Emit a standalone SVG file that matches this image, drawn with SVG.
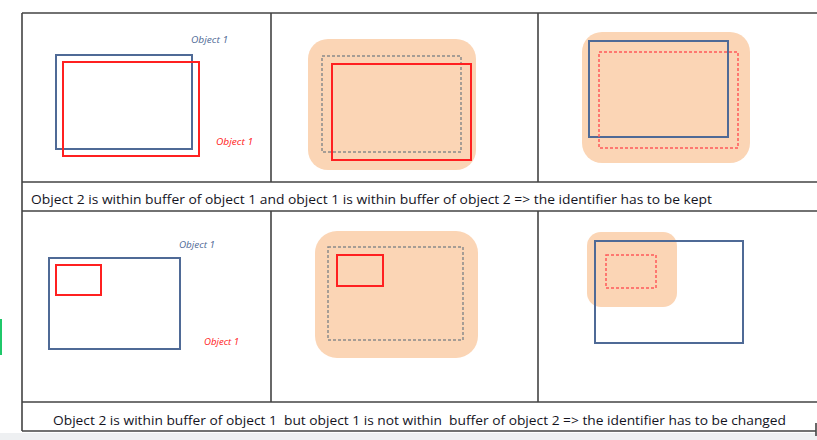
<svg xmlns="http://www.w3.org/2000/svg" width="817" height="440" viewBox="0 0 817 440">
<style>
.grid{stroke:#444;stroke-width:1.6;fill:none}
.blue{fill:none;stroke:#4f6a96;stroke-width:2}
.red{fill:none;stroke:#ff2020;stroke-width:2}
.reddash{fill:none;stroke:#ff5a5a;stroke-width:1.5;stroke-dasharray:3 2}
.graydash{fill:none;stroke:#8a8a8a;stroke-width:1.5;stroke-dasharray:3 2}
.buf{fill:#fbd5b5}
.lbl{font-family:"Open Sans","Liberation Sans",Arial,sans-serif;font-style:italic;font-size:9.5px}
.cap{font-family:"Open Sans","Liberation Sans",Arial,sans-serif;font-size:12.5px;fill:#14141e}
</style>
<rect x="0" y="0" width="817" height="440" fill="#fff"/>
<rect x="0" y="433" width="817" height="7" fill="#eef0f2"/>
<rect x="0" y="319" width="2" height="36" fill="#1fc86a"/>
<g id="table">
<path class="grid" d="M22 13H817M22 182H817M22 211H817M22 402H817M22 431H816M22 13V431M271 13V182M538 13V182M271 211V402M538 211V402M816 423V436"/>
</g>
<g id="cell-1-1">
<rect class="blue" x="56" y="55" width="136" height="94"/>
<rect class="red" x="63" y="62" width="136" height="94"/>
<text class="lbl" x="191" y="43" fill="#4f6a96" textLength="37" lengthAdjust="spacingAndGlyphs">Object 1</text>
<text class="lbl" x="216" y="145" fill="#ff2020" textLength="37" lengthAdjust="spacingAndGlyphs">Object 1</text>
</g>
<g id="cell-1-2">
<rect class="buf" x="308" y="39" width="168" height="131" rx="20"/>
<rect class="graydash" x="322" y="56" width="139" height="96"/>
<rect class="red" x="332" y="64" width="139" height="96"/>
</g>
<g id="cell-1-3">
<rect class="buf" x="582" y="32" width="168" height="131" rx="20"/>
<rect class="blue" x="589" y="41" width="139" height="96"/>
<rect class="reddash" x="599" y="52" width="139" height="96"/>
</g>
<g id="caption-1">
<text class="cap" x="31" y="204" textLength="681" lengthAdjust="spacingAndGlyphs">Object 2 is within buffer of object 1 and object 1 is within buffer of object 2 =&gt; the identifier has to be kept</text>
</g>
<g id="cell-2-1">
<rect class="blue" x="49" y="258" width="131" height="91"/>
<rect class="red" x="56" y="265" width="45" height="30"/>
<text class="lbl" x="179" y="248" fill="#4f6a96" textLength="36" lengthAdjust="spacingAndGlyphs">Object 1</text>
<text class="lbl" x="204" y="345" fill="#ff2020" textLength="35" lengthAdjust="spacingAndGlyphs">Object 1</text>
</g>
<g id="cell-2-2">
<rect class="buf" x="315" y="231" width="163" height="127" rx="22"/>
<rect class="graydash" x="328" y="247" width="135" height="93"/>
<rect class="red" x="337" y="255" width="46" height="31"/>
</g>
<g id="cell-2-3">
<rect class="buf" x="587" y="232" width="90" height="75" rx="14"/>
<rect class="blue" x="595" y="241" width="148" height="102"/>
<rect class="reddash" x="606" y="255" width="50" height="33"/>
</g>
<g id="caption-2">
<text class="cap" x="53" y="425" textLength="733" lengthAdjust="spacingAndGlyphs" xml:space="preserve">Object 2 is within buffer of object 1  but object 1 is not within  buffer of object 2 =&gt; the identifier has to be changed</text>
</g>
</svg>
